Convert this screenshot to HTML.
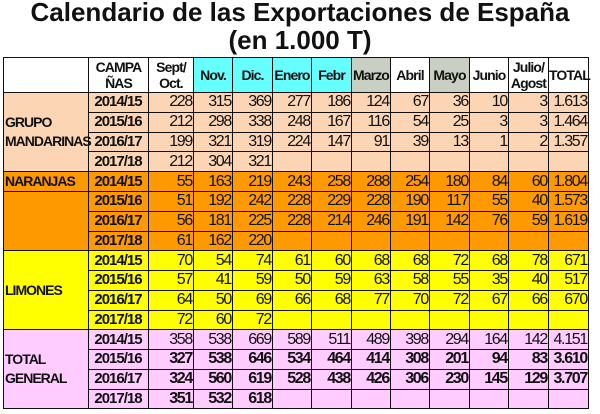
<!DOCTYPE html>
<html><head><meta charset="utf-8"><style>
body{margin:0;width:600px;height:414px;background:#fff;position:relative;overflow:hidden;font-family:"Liberation Sans",sans-serif;}
.t{position:absolute;left:0;width:600px;text-align:center;font-weight:bold;font-size:26px;color:#111;}
table{position:absolute;left:3px;top:57px;width:585px;border-collapse:collapse;table-layout:fixed;font-size:16px;letter-spacing:-1.3px;}
tr{height:19.75px}
tr.h{height:35px}
td{border:1.5px solid #111;padding:0 1px 0 0;text-align:right;line-height:16px;white-space:nowrap;color:#111;}
td.c{text-align:center;font-weight:bold;font-size:15px;letter-spacing:-1px;}
td.g{text-align:left;font-weight:bold;font-size:14px;letter-spacing:-1px;padding-left:1px;line-height:19px;}
tr.h td{text-align:center;font-weight:bold;line-height:16px;font-size:14px;letter-spacing:-0.9px;padding:0;}
.cy{background:#66ffff}.gr{background:#c9cfc3}
.m td{background:#fcd5b4}.n td{background:#ff9900}.l td{background:#ffff00}.p td{background:#ffccff}
.b td{font-weight:bold}
</style></head><body>
<div class="t" style="top:-3px">Calendario de las Exportaciones de España</div>
<div class="t" style="top:25px">(en 1.000 T)</div>
<table>
<colgroup><col style="width:85px"><col style="width:60px"><col style="width:45px"><col style="width:39px"><col style="width:40px"><col style="width:39px"><col style="width:40px"><col style="width:39px"><col style="width:39px"><col style="width:40px"><col style="width:39px"><col style="width:40px"><col style="width:40px"></colgroup>
<tr class="h"><td></td><td>CAMPA<br>ÑAS</td><td>Sept/<br>Oct.</td><td class="cy">Nov.</td><td class="cy">Dic.</td><td class="cy">Enero</td><td class="cy">Febr</td><td class="gr">Marzo</td><td>Abril</td><td class="gr">Mayo</td><td>Junio</td><td>Julio/<br>Agost</td><td>TOTAL</td></tr>
<tr class="m"><td class="g" rowspan="4">GRUPO<br>MANDARINAS</td><td class="c">2014/15</td><td>228</td><td>315</td><td>369</td><td>277</td><td>186</td><td>124</td><td>67</td><td>36</td><td>10</td><td>3</td><td>1.613</td></tr>
<tr class="m"><td class="c">2015/16</td><td>212</td><td>298</td><td>338</td><td>248</td><td>167</td><td>116</td><td>54</td><td>25</td><td>3</td><td>3</td><td>1.464</td></tr>
<tr class="m"><td class="c">2016/17</td><td>199</td><td>321</td><td>319</td><td>224</td><td>147</td><td>91</td><td>39</td><td>13</td><td>1</td><td>2</td><td>1.357</td></tr>
<tr class="m"><td class="c">2017/18</td><td>212</td><td>304</td><td>321</td><td></td><td></td><td></td><td></td><td></td><td></td><td></td><td></td></tr>
<tr class="n"><td class="g">NARANJAS</td><td class="c">2014/15</td><td>55</td><td>163</td><td>219</td><td>243</td><td>258</td><td>288</td><td>254</td><td>180</td><td>84</td><td>60</td><td>1.804</td></tr>
<tr class="n"><td class="g" rowspan="3"></td><td class="c">2015/16</td><td>51</td><td>192</td><td>242</td><td>228</td><td>229</td><td>228</td><td>190</td><td>117</td><td>55</td><td>40</td><td>1.573</td></tr>
<tr class="n"><td class="c">2016/17</td><td>56</td><td>181</td><td>225</td><td>228</td><td>214</td><td>246</td><td>191</td><td>142</td><td>76</td><td>59</td><td>1.619</td></tr>
<tr class="n"><td class="c">2017/18</td><td>61</td><td>162</td><td>220</td><td></td><td></td><td></td><td></td><td></td><td></td><td></td><td></td></tr>
<tr class="l"><td class="g" rowspan="4">LIMONES</td><td class="c">2014/15</td><td>70</td><td>54</td><td>74</td><td>61</td><td>60</td><td>68</td><td>68</td><td>72</td><td>68</td><td>78</td><td>671</td></tr>
<tr class="l"><td class="c">2015/16</td><td>57</td><td>41</td><td>59</td><td>50</td><td>59</td><td>63</td><td>58</td><td>55</td><td>35</td><td>40</td><td>517</td></tr>
<tr class="l"><td class="c">2016/17</td><td>64</td><td>50</td><td>69</td><td>66</td><td>68</td><td>77</td><td>70</td><td>72</td><td>67</td><td>66</td><td>670</td></tr>
<tr class="l"><td class="c">2017/18</td><td>72</td><td>60</td><td>72</td><td></td><td></td><td></td><td></td><td></td><td></td><td></td><td></td></tr>
<tr class="p"><td class="g" rowspan="4">TOTAL<br>GENERAL</td><td class="c">2014/15</td><td>358</td><td>538</td><td>669</td><td>589</td><td>511</td><td>489</td><td>398</td><td>294</td><td>164</td><td>142</td><td>4.151</td></tr>
<tr class="p b"><td class="c">2015/16</td><td>327</td><td>538</td><td>646</td><td>534</td><td>464</td><td>414</td><td>308</td><td>201</td><td>94</td><td>83</td><td>3.610</td></tr>
<tr class="p b"><td class="c">2016/17</td><td>324</td><td>560</td><td>619</td><td>528</td><td>438</td><td>426</td><td>306</td><td>230</td><td>145</td><td>129</td><td>3.707</td></tr>
<tr class="p b"><td class="c">2017/18</td><td>351</td><td>532</td><td>618</td><td></td><td></td><td></td><td></td><td></td><td></td><td></td><td></td></tr>
</table>
</body></html>
